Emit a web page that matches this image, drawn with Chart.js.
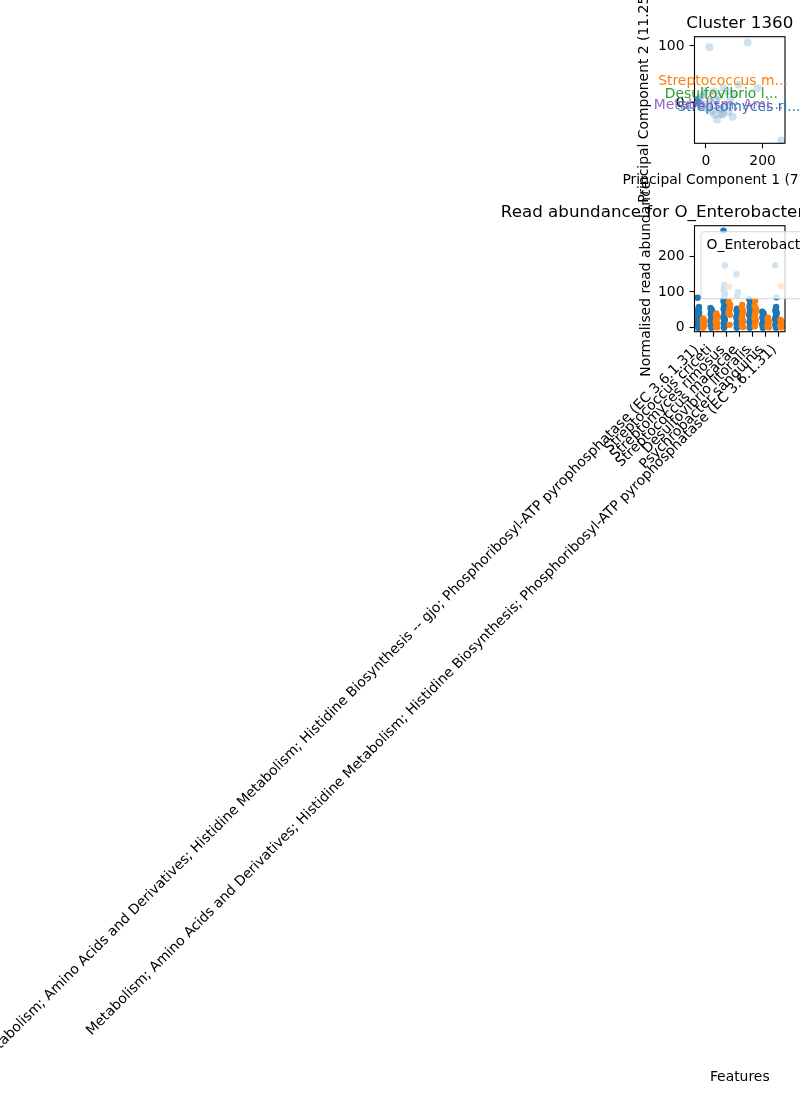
<!DOCTYPE html>
<html><head><meta charset="utf-8">
<script src="https://cdn.jsdelivr.net/npm/chart.js@4.4.1/dist/chart.umd.min.js"></script>
<style>
html,body{margin:0;padding:0;background:#fff;}
#wrap{position:relative;width:800px;height:1100px;overflow:hidden;background:#fff;}
canvas{position:absolute;left:0;top:0;}
</style></head><body>
<div id="wrap"><canvas id="pca" width="800" height="1100"></canvas><canvas id="strip" width="800" height="1100"></canvas></div>
<script>
// ---------- PCA scatter (Cluster 1360) ----------
const pcaTitle = "Cluster 1360";
const pcaXLabel = "Principal Component 1 (77.385%)";
const pcaYLabel = "Principal Component 2 (11.25%)";
const pcaX = [12, 147, 182, 266, 39, 94, 54, 21, -14, -32, -33, -30, -35, -28, -31, -20, 27, 62, 115, 68, 80, 0, -25, -39, 14, 46, 5, -8, 35, 50, 85, 100, 30, -5, 60, 75];
const pcaY = [98, 106, 26, -66, -29, -24, -19, -15, -6, 2, 3, 0, 5, 6, 1, 11, 20, 26, 32, -6, -15, -2, 0, 5, 5, 12, -10, 14, 5, -10, 5, 15, -20, 20, -20, 20];
const pcaXTicks = [0, 200];
const pcaYTicks = [0, 100];
const loadingLabels = ["Streptomyces ri...", "Streptococcus m...", "Desulfovibrio l...", "Metabolism; Ami..."];
const loadingX = [116, 60, 54, 44];
const loadingY = [-7, 38.6, 15.8, -3.5];

// ---------- Strip plot ----------
const stripTitle = "Read abundance for O_Enterobacterales for Cluster 1360";
const stripYLabel = "Normalised read abundance";
const stripXLabel = "Features";
const legendTitle = "O_Enterobacterales";
const hueNames = ["Present", "Absent"];
const features = [
  "Metabolism; Amino Acids and Derivatives; Histidine Metabolism; Histidine Biosynthesis -- gjo; Phosphoribosyl-ATP pyrophosphatase (EC 3.6.1.31)",
  "Streptococcus criceti",
  "Streptomyces rimosus",
  "Streptococcus macacae",
  "Desulfovibrio litoralis",
  "Psychrobacter sanguinis",
  "Metabolism; Amino Acids and Derivatives; Histidine Metabolism; Histidine Biosynthesis; Phosphoribosyl-ATP pyrophosphatase (EC 3.6.1.31)"
];
const blueVals = [
  [84, 58, 54, 50, 46, 42, 38, 35, 31, 28, 25, 22, 19, 16, 13, 10, 8, 6, 4, 2, 1, 0],
  [55, 50, 46, 42, 38, 34, 30, 26, 22, 18, 15, 12, 9, 6, 3, 1, 0],
  [272, 175, 120, 112, 105, 98, 92, 86, 80, 74, 68, 62, 57, 52, 47, 42, 37, 32, 28, 24, 20, 16, 12, 8, 5, 2, 0],
  [150, 100, 91, 53, 48, 44, 40, 36, 32, 28, 24, 20, 16, 12, 8, 5, 2, 0],
  [80, 72, 68, 63, 58, 53, 48, 44, 40, 35, 30, 25, 20, 15, 10, 6, 3, 0],
  [45, 40, 36, 32, 28, 24, 20, 16, 12, 8, 5, 2, 0],
  [175, 85, 58, 52, 47, 42, 37, 32, 28, 24, 20, 16, 12, 8, 5, 2, 0]
];
const orangeVals = [
  [26, 22, 19, 16, 13, 10, 8, 6, 4, 2, 0],
  [40, 36, 32, 28, 24, 20, 16, 12, 9, 6, 3, 1],
  [115, 72, 64, 58, 52, 46, 40, 36, 8],
  [64, 56, 48, 42, 36, 30, 25, 20, 15, 10, 5, 2],
  [75, 60, 53, 46, 40, 34, 28, 22, 16, 10, 4],
  [28, 23, 18, 14, 10, 6, 3, 1],
  [116, 22, 18, 14, 10, 7, 4, 1]
];
const stripYTicks = [0, 100, 200];

// ---------- shared styling ----------
const FONT = "'DejaVu Sans', 'Liberation Sans', sans-serif";
Chart.defaults.font.family = FONT;
Chart.defaults.font.size = 13.9;
Chart.defaults.color = '#000';
const LEFT = 694.5, RIGHT = 785;

function fixScale(size, horiz) {
  return function (scale) {
    if (horiz) scale.height = size; else scale.width = size;
    scale.paddingLeft = 0; scale.paddingRight = 0; scale.paddingTop = 0; scale.paddingBottom = 0;
  };
}
function setTicks(vals) {
  return function (axis) { axis.ticks = vals.map(v => ({ value: v })); };
}
const gridOpts = { display: true, drawOnChartArea: false, drawTicks: true, tickLength: 5, tickWidth: 1.1, tickColor: '#000' };

const framePlugin = {
  id: 'frame',
  afterDatasetsDraw(chart) {
    const { ctx, chartArea: a } = chart;
    ctx.save();
    ctx.strokeStyle = '#000';
    ctx.lineWidth = 1.1;
    ctx.strokeRect(a.left, a.top, a.right - a.left, a.bottom - a.top);
    ctx.restore();
  }
};

function drawText(ctx, txt, x, y, size, color, align, rot) {
  ctx.save();
  ctx.font = size + 'px ' + FONT;
  ctx.fillStyle = color;
  ctx.textAlign = align;
  ctx.textBaseline = 'alphabetic';
  ctx.translate(x, y);
  if (rot) ctx.rotate(rot);
  ctx.fillText(txt, 0, 0);
  ctx.restore();
}

// ---------- Chart A ----------
const pcaPoints = pcaX.map((x, i) => ({ x: x, y: pcaY[i] }));
const loadColors = ['#1f77b4', '#ff7f0e', '#2ca02c', '#9467bd'];

const pcaTextPlugin = {
  id: 'pcaText',
  afterDraw(chart) {
    const { ctx, chartArea: a, scales } = chart;
    const cx = (a.left + a.right) / 2, cy = (a.top + a.bottom) / 2;
    ctx.save();
    ctx.strokeStyle = '#ff7f0e';
    ctx.lineWidth = 1;
    ctx.beginPath();
    ctx.moveTo(scales.x.getPixelForValue(0), scales.y.getPixelForValue(7));
    ctx.lineTo(scales.x.getPixelForValue(32), scales.y.getPixelForValue(21));
    ctx.stroke();
    ctx.restore();
    loadingLabels.forEach((t, i) => {
      ctx.save();
      ctx.font = '13.9px ' + FONT;
      ctx.fillStyle = loadColors[i];
      ctx.textAlign = 'center';
      ctx.textBaseline = 'middle';
      ctx.fillText(t, scales.x.getPixelForValue(loadingX[i]), scales.y.getPixelForValue(loadingY[i]));
      ctx.restore();
    });
    drawText(ctx, pcaTitle, cx, a.top - 8.3, 16.7, '#000', 'center', 0);
    drawText(ctx, pcaXLabel, cx, a.bottom + 41, 13.9, '#000', 'center', 0);
    drawText(ctx, pcaYLabel, a.left - 46.5, cy, 13.9, '#000', 'center', -Math.PI / 2);
  }
};

new Chart(document.getElementById('pca'), {
  type: 'scatter',
  data: { datasets: [{ data: pcaPoints, backgroundColor: 'rgba(31,119,180,0.22)', borderWidth: 0, pointRadius: 4 }] },
  options: {
    responsive: false, animation: false, devicePixelRatio: 1,
    layout: { padding: { left: LEFT - 60, right: 800 - RIGHT, top: 36.7, bottom: 1100 - 143.3 - 40 } },
    plugins: { legend: { display: false }, tooltip: { enabled: false }, title: { display: false } },
    scales: {
      x: { type: 'linear', min: -40.6, max: 279, afterBuildTicks: setTicks(pcaXTicks), afterFit: fixScale(40, true),
           grid: gridOpts, border: { display: false }, ticks: { padding: 5, maxRotation: 0, autoSkip: false } },
      y: { type: 'linear', min: -70.7, max: 116.3, afterBuildTicks: setTicks(pcaYTicks), afterFit: fixScale(60, false),
           grid: gridOpts, border: { display: false }, ticks: { padding: 5, autoSkip: false } }
    }
  },
  plugins: [framePlugin, pcaTextPlugin]
});

// ---------- Chart B ----------
function jit(k) { return ((((k * 7) % 9) - 4) / 4) * 0.06; }
const bluePts = [], orangePts = [];
blueVals.forEach((vals, i) => vals.forEach((v, k) => bluePts.push({ x: i - 0.2 + jit(k), y: v })));
orangeVals.forEach((vals, i) => vals.forEach((v, k) => orangePts.push({ x: i + 0.2 + jit(k + 3), y: v })));

const stripTextPlugin = {
  id: 'stripText',
  afterDatasetsDraw(chart) {
    const { ctx, chartArea: a } = chart;
    const lx = a.left + 6.5, ly = a.top + 6;
    ctx.save();
    ctx.beginPath();
    if (ctx.roundRect) ctx.roundRect(lx, ly, 140, 67, 3); else ctx.rect(lx, ly, 140, 67);
    ctx.fillStyle = 'rgba(255,255,255,0.8)';
    ctx.fill();
    ctx.strokeStyle = 'rgba(204,204,204,0.8)';
    ctx.lineWidth = 1;
    ctx.stroke();
    ctx.restore();
    drawText(ctx, legendTitle, lx + 5.5, ly + 17, 13.9, '#000', 'left', 0);
  },
  afterDraw(chart) {
    const { ctx, chartArea: a } = chart;
    const cx = (a.left + a.right) / 2, cy = (a.top + a.bottom) / 2;
    drawText(ctx, stripTitle, cx, a.top - 8.3, 16.7, '#000', 'center', 0);
    drawText(ctx, stripYLabel, a.left - 45, cy, 13.9, '#000', 'center', -Math.PI / 2);
    drawText(ctx, stripXLabel, cx, 1081, 13.9, '#000', 'center', 0);
  }
};

new Chart(document.getElementById('strip'), {
  type: 'scatter',
  data: { datasets: [
    { label: hueNames[1], data: orangePts, backgroundColor: '#ff7f0e', borderWidth: 0, pointRadius: 3.2, order: 0 },
    { label: hueNames[0], data: bluePts, backgroundColor: '#1f77b4', borderWidth: 0, pointRadius: 3.2, order: 1 }
  ] },
  options: {
    responsive: false, animation: false, devicePixelRatio: 1,
    layout: { padding: { left: LEFT - 60, right: 800 - RIGHT, top: 225.7, bottom: 0 } },
    plugins: { legend: { display: false }, tooltip: { enabled: false }, title: { display: false } },
    scales: {
      x: { type: 'linear', min: -0.5, max: 6.5, afterBuildTicks: setTicks(features.map((f, i) => i)), afterFit: fixScale(1100 - 331.7, true),
           grid: gridOpts, border: { display: false },
           ticks: { padding: 5, labelOffset: -4, minRotation: 45, maxRotation: 45, autoSkip: false, callback: (v) => features[v] } },
      y: { type: 'linear', min: -11.2, max: 285.7, afterBuildTicks: setTicks(stripYTicks), afterFit: fixScale(60, false),
           grid: gridOpts, border: { display: false }, ticks: { padding: 5, autoSkip: false } }
    }
  },
  plugins: [framePlugin, stripTextPlugin]
});
</script>
</body></html>
